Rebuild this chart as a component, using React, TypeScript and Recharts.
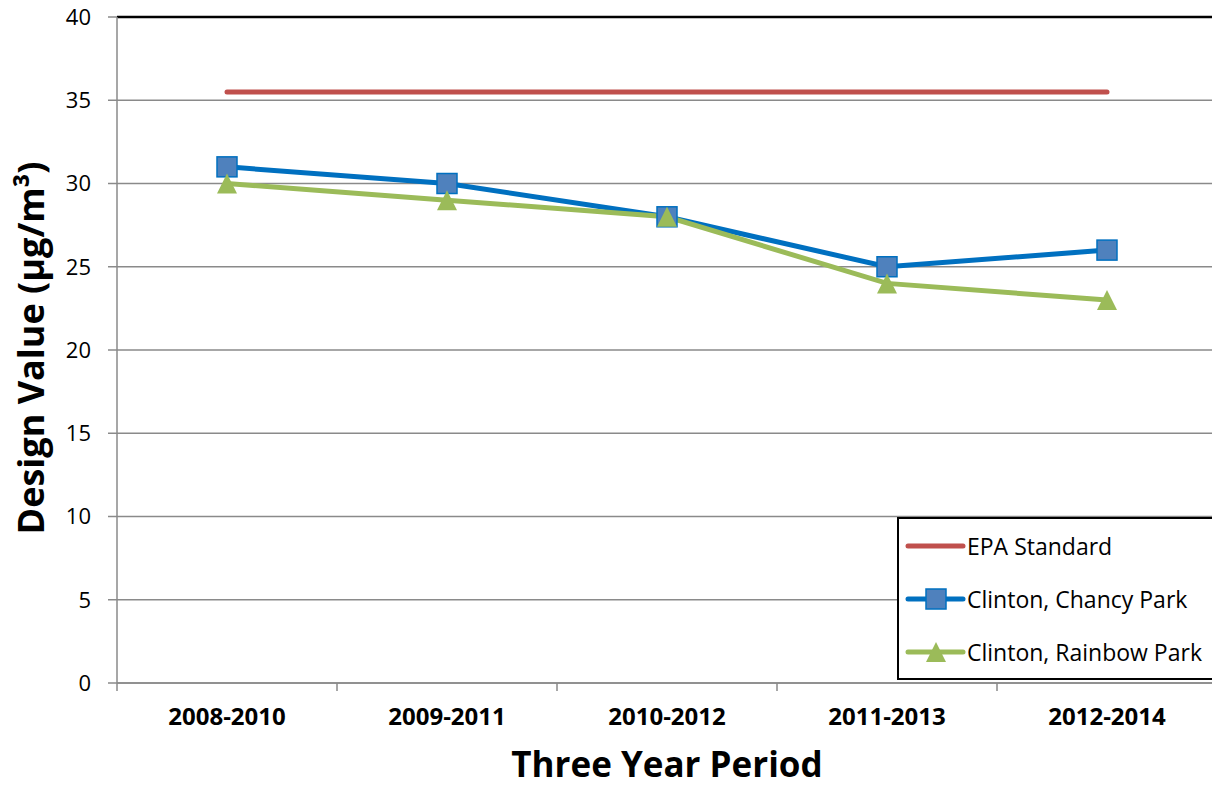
import { LineChart, Line, XAxis, YAxis, CartesianGrid, ReferenceLine, Legend } from "recharts";

const periods = ["2008-2010", "2009-2011", "2010-2012", "2011-2013", "2012-2014"];
const epaStandard = [35.5, 35.5, 35.5, 35.5, 35.5];
const chancyPark = [31, 30, 28, 25, 26];
const rainbowPark = [30, 29, 28, 24, 23];
const yTicks = [0, 5, 10, 15, 20, 25, 30, 35, 40];
const edgeTicks = [0, 1, 2, 3, 4, 5];
const centerTicks = [0.5, 1.5, 2.5, 3.5, 4.5];

const RED = "#C0504D";
const BLUE = "#0070C0";
const BLUE_FILL = "#4F81BD";
const GREEN = "#9BBB59";
const GRID = "#8a8a8a";
const FONT = "'Open Sans', sans-serif";

const data = periods.map((p, i) => ({
  period: p,
  pos: i + 0.5,
  epa: epaStandard[i],
  chancy: chancyPark[i],
  rainbow: rainbowPark[i],
}));

const SquareDot = (props: any) => {
  const { cx, cy, index } = props;
  if (cx == null || cy == null) return null;
  return (
    <rect key={`sq-${index}`} x={cx - 10} y={cy - 10} width={20} height={20} fill={BLUE_FILL} stroke={BLUE} strokeWidth={1.5} />
  );
};

const TriangleDot = (props: any) => {
  const { cx, cy, index } = props;
  if (cx == null || cy == null) return null;
  return (
    <polygon key={`tr-${index}`} points={`${cx},${cy - 10} ${cx + 10},${cy + 10} ${cx - 10},${cy + 10}`} fill={GREEN} />
  );
};

const legendItems = [
  { name: "EPA Standard", color: RED, marker: "none" },
  { name: "Clinton, Chancy Park", color: BLUE, marker: "square" },
  { name: "Clinton, Rainbow Park", color: GREEN, marker: "triangle" },
];

function LegendBox() {
  return (
    <div style={{ paddingTop: 0 }}>
      {legendItems.map((it) => (
        <div key={it.name} style={{ display: "flex", alignItems: "center", height: 53 }}>
          <svg width={70} height={30} style={{ marginLeft: 6 }}>
            <line x1={3} y1={15} x2={58} y2={15} stroke={it.color} strokeWidth={5} strokeLinecap="round" />
            {it.marker === "square" && (
              <rect x={21} y={5} width={20} height={20} fill={BLUE_FILL} stroke={BLUE} strokeWidth={1.5} />
            )}
            {it.marker === "triangle" && <polygon points="31,5 41,25 21,25" fill={GREEN} />}
          </svg>
          <span style={{ marginLeft: -8, fontSize: 23, fontFamily: FONT, color: "#000", whiteSpace: "nowrap" }}>{it.name}</span>
        </div>
      ))}
    </div>
  );
}

export default function App() {
  return (
    <div style={{ position: "absolute", left: 0, top: 0, width: 1212, height: 790, overflow: "hidden", background: "#fff", fontFamily: FONT }}>
      <LineChart width={1212} height={790} data={data} margin={{ top: 17, right: -5, left: 0, bottom: 0 }}>
        <CartesianGrid horizontal vertical={false} stroke={GRID} strokeWidth={1.5} xAxisId="edges" />
        <XAxis
          xAxisId="edges"
          dataKey="pos"
          type="number"
          domain={[0, 5]}
          ticks={edgeTicks}
          tickFormatter={() => ""}
          tickSize={8}
          height={1}
          stroke={GRID}
          strokeWidth={1.5}
          allowDataOverflow
        />
        <XAxis
          xAxisId="labels"
          dataKey="pos"
          type="number"
          domain={[0, 5]}
          ticks={centerTicks}
          tickFormatter={(v: number) => periods[Math.floor(v)]}
          axisLine={false}
          tickLine={false}
          tickSize={0}
          tickMargin={24}
          height={106}
          interval={0}
          tick={{ fontSize: 24, fontWeight: 700, fill: "#000", fontFamily: FONT }}
          label={{
            content: ({ viewBox }: any) => (
              <text
                x={viewBox.x + viewBox.width / 2}
                y={viewBox.y + 93}
                textAnchor="middle"
                fontSize={35}
                fontWeight={700}
                fontFamily={FONT}
                fill="#000"
              >
                Three Year Period
              </text>
            ),
          }}
        />
        <YAxis
          domain={[0, 40]}
          ticks={yTicks}
          width={117}
          tickSize={9}
          tickMargin={17}
          stroke={GRID}
          strokeWidth={1.5}
          tick={{ fontSize: 22, fill: "#000", fontFamily: FONT }}
          label={{
            content: ({ viewBox }: any) => {
              const cx = 44;
              const cy = viewBox.y + viewBox.height / 2 - 2;
              return (
                <text
                  x={cx}
                  y={cy}
                  transform={`rotate(-90 ${cx} ${cy})`}
                  textAnchor="middle"
                  fontSize={36}
                  fontWeight={700}
                  fontFamily={FONT}
                  fill="#000"
                >
                  Design Value (µg/m³)
                </text>
              );
            },
          }}
        />
        <ReferenceLine y={40} xAxisId="edges" stroke="#000" strokeWidth={2.5} />
        <Line
          xAxisId="edges"
          dataKey="epa"
          name="EPA Standard"
          stroke={RED}
          strokeWidth={5}
          strokeLinecap="round"
          dot={false}
          activeDot={false}
          isAnimationActive={false}
        />
        <Line
          xAxisId="edges"
          dataKey="chancy"
          name="Clinton, Chancy Park"
          stroke={BLUE}
          strokeWidth={5}
          dot={SquareDot}
          activeDot={false}
          isAnimationActive={false}
        />
        <Line
          xAxisId="edges"
          dataKey="rainbow"
          name="Clinton, Rainbow Park"
          stroke={GREEN}
          strokeWidth={5}
          dot={TriangleDot}
          activeDot={false}
          isAnimationActive={false}
        />
        <Legend
          layout="vertical"
          align="center"
          verticalAlign="middle"
          content={() => <LegendBox />}
          wrapperStyle={{
            left: 897,
            top: 517,
            width: 340,
            height: 163,
            boxSizing: "border-box",
            border: "2px solid #000",
            background: "#fff",
          }}
        />
      </LineChart>
    </div>
  );
}
